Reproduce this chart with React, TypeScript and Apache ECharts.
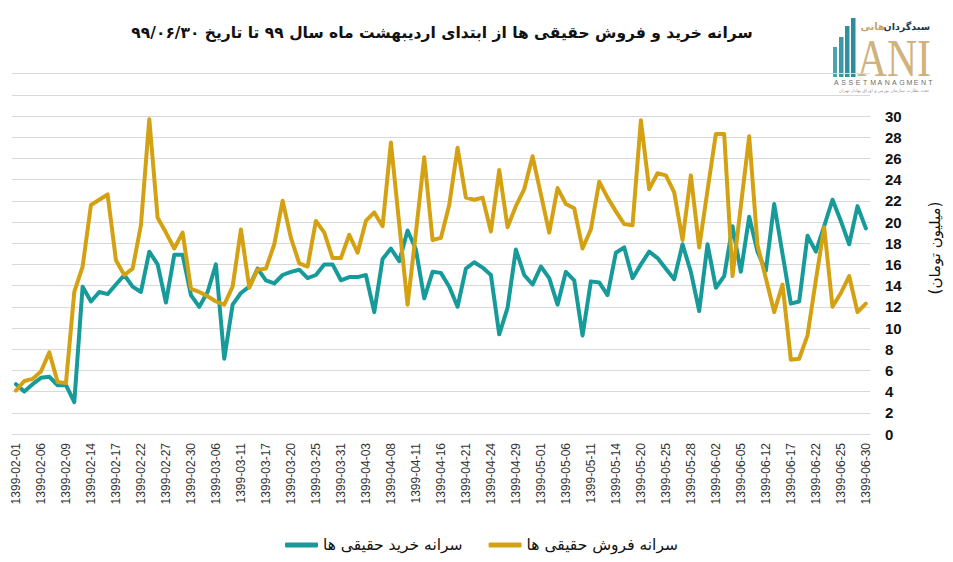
import React, { useEffect, useRef } from "react";
import * as echarts from "echarts";

const dates: string[] = [
  "1399-02-01","1399-02-02","1399-02-03","1399-02-06","1399-02-07","1399-02-08","1399-02-09","1399-02-10","1399-02-13","1399-02-14",
  "1399-02-15","1399-02-16","1399-02-17","1399-02-20","1399-02-21","1399-02-22","1399-02-23","1399-02-24","1399-02-27","1399-02-28",
  "1399-02-29","1399-02-30","1399-02-31","1399-03-03","1399-03-06","1399-03-07","1399-03-10","1399-03-11","1399-03-12","1399-03-13",
  "1399-03-17","1399-03-18","1399-03-19","1399-03-20","1399-03-21","1399-03-24","1399-03-25","1399-03-26","1399-03-27","1399-03-31",
  "1399-04-01","1399-04-02","1399-04-03","1399-04-04","1399-04-07","1399-04-08","1399-04-09","1399-04-10","1399-04-11","1399-04-14",
  "1399-04-15","1399-04-16","1399-04-17","1399-04-18","1399-04-21","1399-04-22","1399-04-23","1399-04-24","1399-04-25","1399-04-28",
  "1399-04-29","1399-04-30","1399-04-31","1399-05-01","1399-05-04","1399-05-05","1399-05-06","1399-05-07","1399-05-08","1399-05-11",
  "1399-05-12","1399-05-13","1399-05-14","1399-05-15","1399-05-19","1399-05-20","1399-05-21","1399-05-22","1399-05-25","1399-05-26",
  "1399-05-27","1399-05-28","1399-05-29","1399-06-01","1399-06-02","1399-06-03","1399-06-04","1399-06-05","1399-06-10","1399-06-11",
  "1399-06-12","1399-06-15","1399-06-16","1399-06-17","1399-06-18","1399-06-19","1399-06-22","1399-06-23","1399-06-24","1399-06-25",
  "1399-06-26","1399-06-29","1399-06-30",
];

const buyPerCapita: number[] = [
  4.7, 4.0, 4.7, 5.3, 5.4, 4.6, 4.6, 3.0, 13.9, 12.5,
  13.4, 13.2, 14.1, 15.0, 13.9, 13.4, 17.2, 16.0, 12.4, 16.9,
  16.9, 13.1, 12.0, 13.4, 16.0, 7.1, 12.2, 13.3, 13.9, 15.6,
  14.5, 14.2, 15.0, 15.3, 15.5, 14.7, 15.0, 16.0, 16.0, 14.5,
  14.8, 14.8, 15.0, 11.5, 16.5, 17.5, 16.3, 19.2, 17.4, 12.8,
  15.3, 15.2, 13.9, 12.0, 15.6, 16.2, 15.7, 15.0, 9.4, 11.9,
  17.4, 15.0, 14.1, 15.8, 14.7, 12.2, 15.3, 14.5, 9.3, 14.4,
  14.3, 13.1, 17.1, 17.6, 14.7, 16.0, 17.2, 16.6, 15.6, 14.6,
  17.9, 15.3, 11.6, 17.9, 13.8, 14.9, 19.6, 15.3, 20.5, 17.2,
  15.4, 21.7, 17.0, 12.3, 12.5, 18.7, 17.2, 19.6, 22.1, 20.1,
  17.9, 21.5, 19.4,
];

const sellPerCapita: number[] = [
  4.1, 5.0, 5.2, 5.9, 7.7, 4.9, 4.8, 13.4, 15.8, 21.6,
  22.1, 22.6, 16.4, 15.0, 15.6, 19.7, 29.7, 20.4, 19.0, 17.5,
  19.0, 13.7, 13.4, 13.0, 12.5, 12.2, 13.9, 19.3, 13.8, 15.5,
  15.6, 17.9, 22.0, 18.5, 16.1, 15.8, 20.1, 19.0, 16.6, 16.6,
  18.8, 17.1, 20.1, 20.9, 19.6, 27.5, 19.8, 12.2, 19.0, 26.1,
  18.3, 18.5, 21.6, 27.0, 22.3, 22.1, 22.3, 19.1, 24.9, 19.5,
  21.5, 23.1, 26.2, 22.6, 19.0, 23.2, 21.7, 21.3, 17.5, 19.3,
  23.8, 22.3, 21.0, 19.8, 19.7, 29.6, 23.1, 24.6, 24.4, 22.8,
  18.3, 24.4, 17.6, 23.0, 28.3, 28.3, 14.9, 21.5, 28.1, 17.8,
  14.7, 11.5, 14.1, 7.0, 7.1, 9.3, 14.5, 19.5, 12.0, 13.3,
  14.9, 11.5, 12.3,
];

const seriesNames: string[] = ["سرانه خرید حقیقی ها", "سرانه فروش حقیقی ها"];
const titleText = "سرانه خرید و فروش حقیقی ها از ابتدای اردیبهشت ماه سال ۹۹ تا تاریخ ۹۹/۰۶/۳۰";
const yAxisTitle = "(میلیون تومان)";
const logoWordA = "سبدگردان";
const logoWordB = "هانی";
const logoLatin = "ANI";
const logoSub = "ASSETMANAGMENT";
const logoNote = "تحت نظارت سازمان بورس و اوراق بهادار تهران";

const TEAL = "#179b9a";
const GOLD = "#d4a112";
const FA = "'DejaVu Sans', 'Noto Sans', sans-serif";

export default function App() {
  const ref = useRef<HTMLDivElement>(null);
  useEffect(() => {
    document.body.style.margin = "0";
    const chart = echarts.init(ref.current!, null, { renderer: "svg" });
    const subChars = logoSub.split("").map((ch, i) => ({
      type: "text",
      x: 834 + i * 7.25,
      y: 82,
      style: { text: ch, font: "7px 'Liberation Sans', sans-serif", fill: "#6b6b6b", align: "left", verticalAlign: "middle" },
    }));
    chart.setOption({
      animation: false,
      backgroundColor: "#ffffff",
      grid: { left: 11.8, right: 83, top: 73.6, bottom: 128, containLabel: false },
      xAxis: {
        type: "category",
        data: dates,
        boundaryGap: true,
        axisLine: { show: false },
        axisTick: { show: false },
        axisLabel: {
          interval: 2,
          rotate: 90,
          margin: 9,
          fontSize: 12,
          color: "#333333",
          fontFamily: "'Liberation Sans', sans-serif",
        },
        splitLine: { show: false },
      },
      yAxis: {
        type: "value",
        position: "right",
        min: 0,
        max: 34,
        interval: 2,
        axisLine: { show: false },
        axisTick: { show: false },
        axisLabel: {
          margin: 15,
          fontSize: 15,
          fontWeight: "bold",
          color: "#111111",
          fontFamily: "'Liberation Sans', sans-serif",
          formatter: (v: number) => (v > 30 ? "" : String(v)),
        },
        splitLine: { lineStyle: { color: "#d9d9d9", width: 1 } },
      },
      legend: {
        left: 280,
        top: 532,
        itemWidth: 33,
        itemHeight: 5,
        itemGap: 26,
        icon: "roundRect",
        textStyle: { fontFamily: FA, fontSize: 15.5, color: "#111111" },
        data: seriesNames,
      },
      series: [
        {
          name: seriesNames[0],
          type: "line",
          data: buyPerCapita,
          showSymbol: false,
          symbol: "none",
          color: TEAL,
          lineStyle: { width: 4, color: TEAL, cap: "round", join: "round" },
          z: 2,
        },
        {
          name: seriesNames[1],
          type: "line",
          data: sellPerCapita,
          showSymbol: false,
          symbol: "none",
          color: GOLD,
          lineStyle: { width: 4, color: GOLD, cap: "round", join: "round" },
          z: 3,
        },
      ],
      graphic: [
        {
          type: "text",
          x: 442,
          y: 33,
          style: { text: titleText, font: `bold 15.5px ${FA}`, fill: "#111111", align: "center", verticalAlign: "middle" },
        },
        {
          type: "text",
          x: 935,
          y: 248,
          rotation: Math.PI / 2,
          style: { text: yAxisTitle, font: `15px ${FA}`, fill: "#111111", align: "center", verticalAlign: "middle" },
        },
        {
          type: "group",
          children: [
            { type: "rect", shape: { x: 833, y: 47, width: 4, height: 30 }, style: { fill: "#4aa3ae" } },
            { type: "rect", shape: { x: 839, y: 37, width: 4.5, height: 40 }, style: { fill: "#3b9aa6" } },
            { type: "rect", shape: { x: 845, y: 26, width: 4.5, height: 51 }, style: { fill: "#2f929f" } },
            { type: "rect", shape: { x: 851, y: 18, width: 4.5, height: 59 }, style: { fill: "#2b8d9b" } },
            {
              type: "text",
              x: 930,
              y: 26,
              style: { text: logoWordA, font: `bold 9.5px ${FA}`, fill: "#163a4a", align: "right", verticalAlign: "middle" },
            },
            {
              type: "text",
              x: 885,
              y: 26,
              style: { text: logoWordB, font: `bold 10px ${FA}`, fill: "#c9a46a", align: "right", verticalAlign: "middle" },
            },
            {
              type: "text",
              x: 857,
              y: 58,
              scaleX: 0.8,
              style: { text: logoLatin, font: "52px 'Liberation Serif', serif", fill: "#cfb27c", align: "left", verticalAlign: "middle" },
            },
            ...subChars,
            {
              type: "text",
              x: 884,
              y: 90,
              style: { text: logoNote, font: `4.5px ${FA}`, fill: "#9a9a9a", align: "center", verticalAlign: "middle" },
            },
          ],
        },
      ],
    });
    return () => chart.dispose();
  }, []);
  return <div ref={ref} style={{ width: 953, height: 562 }} />;
}
